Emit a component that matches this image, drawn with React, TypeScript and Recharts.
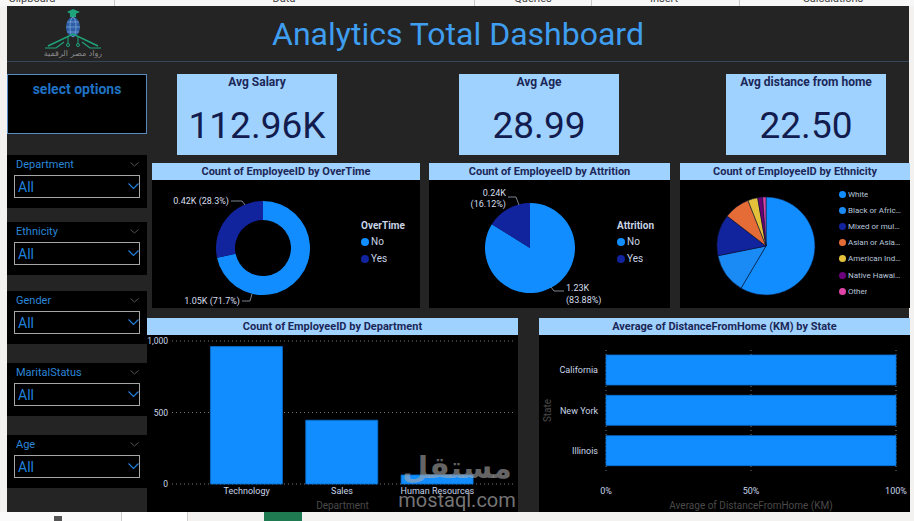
import React from "react";
import { PieChart, Pie, Cell, BarChart, Bar, XAxis, YAxis, CartesianGrid } from "recharts";

// ---- data ----
const kpiTitles = ["Avg Salary", "Avg Age", "Avg distance from home"];
const kpiValues = ["112.96K", "28.99", "22.50"];

const slicerNames = ["Department", "Ethnicity", "Gender", "MaritalStatus", "Age"];

const overtimeNames = ["No", "Yes"];
const overtimeCounts = [1054, 416];

const attritionNames = ["No", "Yes"];
const attritionCounts = [1233, 237];

const ethnicityNames = [
  "White",
  "Black or African American",
  "Mixed or multiple ethnic groups",
  "Asian or Asian American",
  "American Indian or Alaska Native",
  "Native Hawaiian",
  "Other",
];
const ethnicityCounts = [860, 196, 200, 126, 48, 24, 16];

const departmentNames = ["Technology", "Sales", "Human Resources"];
const departmentCounts = [961, 446, 63];
const departmentTicks = [0, 500, 1000];

const stateNames = ["California", "New York", "Illinois"];
const stateAvgDistance = [22.4, 22.7, 22.5];
const stateTicks = [0, 0.5, 1];

const ribbonLabels = ["Clipboard", "Data", "Queries", "Insert", "Calculations"];

// ---- colours ----
const BLUE = "#118DFF";
const NAVY = "#12239E";
const ethnicityColors = [BLUE, "#1a8af5", NAVY, "#E66C37", "#E3C13B", "#6B007B", "#E044A7"];
const CARD = "#a0d2ff";
const TITLE_TXT = "#1b2757";
const LEGEND_TXT = "#c8d3e6";
const FONT = "Roboto, 'Noto Sans', sans-serif";

const overtimeData = overtimeNames.map((name, i) => ({ name, value: overtimeCounts[i] }));
const attritionData = attritionNames.map((name, i) => ({ name, value: attritionCounts[i] }));
const ethnicityData = ethnicityNames.map((name, i) => ({ name, value: ethnicityCounts[i] }));
const departmentData = departmentNames.map((name, i) => ({ name, count: departmentCounts[i] }));
const stateData = stateNames.map((name, i) => ({ name, avg: stateAvgDistance[i] }));

const fmtK = (v: number) => (v / 1000).toFixed(2) + "K";

function PanelTitle({ left, top, width, text }: { left: number; top: number; width: number; text: string }) {
  return (
    <div
      style={{
        position: "absolute",
        left,
        top,
        width,
        height: 17,
        background: CARD,
        color: TITLE_TXT,
        fontSize: 11,
        fontWeight: 700,
        lineHeight: "17px",
        textAlign: "center",
      }}
    >
      {text}
    </div>
  );
}

function Slicer({ name, top }: { name: string; top: number }) {
  return (
    <div style={{ position: "absolute", left: 7, top, width: 140, height: 53, background: "#000" }}>
      <div style={{ position: "absolute", left: 9, top: 3, fontSize: 11, color: "#2a86d8" }}>{name}</div>
      <svg style={{ position: "absolute", left: 123, top: 7 }} width={9} height={5}>
        <polyline points="0.5,0.5 4.5,4 8.5,0.5" fill="none" stroke="#555" strokeWidth={1} />
      </svg>
      <div
        style={{
          position: "absolute",
          left: 7,
          top: 20,
          width: 124,
          height: 21,
          border: "1px solid #a6a6a6",
        }}
      >
        <span style={{ position: "absolute", left: 3, top: 1, lineHeight: "21px", fontSize: 14, color: "#1f80dc" }}>
          All
        </span>
        <svg style={{ position: "absolute", left: 113, top: 7 }} width={11} height={7}>
          <polyline points="0.5,0.5 5.5,5.5 10.5,0.5" fill="none" stroke="#1f80dc" strokeWidth={1.2} />
        </svg>
      </div>
    </div>
  );
}

function Kpi({ left, title, value }: { left: number; title: string; value: string }) {
  return (
    <div style={{ position: "absolute", left, top: 74, width: 160, height: 81, background: CARD }}>
      <div style={{ position: "absolute", top: 1, width: "100%", textAlign: "center", fontSize: 12, fontWeight: 700, color: TITLE_TXT }}>
        {title}
      </div>
      <div style={{ position: "absolute", top: 30, width: "100%", textAlign: "center", fontSize: 37, color: "#121c4e" }}>
        {value}
      </div>
    </div>
  );
}

// label geometry relative to the pie centre
type LabelSpec = { pts: number[][]; tx: number; ty: number[]; anchor: "start" | "end" };

function makeLabel(specs: LabelSpec[], lines: (v: number, pct: number) => string[]) {
  return (p: any) => {
    const s = specs[p.index];
    if (!s) return null;
    const cx = Number(p.cx);
    const cy = Number(p.cy);
    const txt = lines(p.value, p.percent);
    return (
      <g>
        <polyline
          points={s.pts.map(([x, y]) => `${cx + x},${cy + y}`).join(" ")}
          fill="none"
          stroke="#9aa4b4"
          strokeWidth={0.8}
        />
        {txt.map((t, i) => (
          <text
            key={i}
            x={cx + s.tx}
            y={cy + s.ty[i]}
            textAnchor={s.anchor}
            dominantBaseline="central"
            fontSize={9}
            fill="#d6deec"
            fontFamily={FONT}
          >
            {t}
          </text>
        ))}
      </g>
    );
  };
}

const overtimeLabel = makeLabel(
  [
    { pts: [[-11, 46], [-13, 53], [-21, 53]], tx: -23, ty: [53], anchor: "end" },
    { pts: [[-18, -43], [-21, -47], [-32, -47]], tx: -34, ty: [-47], anchor: "end" },
  ],
  (v, pct) => [`${fmtK(v)} (${(pct * 100).toFixed(1)}%)`]
);

const attritionLabel = makeLabel(
  [
    { pts: [[21, 39], [24, 43], [34, 43]], tx: 36, ty: [40, 52], anchor: "start" },
    { pts: [[-11, -43], [-14, -51], [-22, -51]], tx: -24, ty: [-55, -44], anchor: "end" },
  ],
  (v, pct) => [fmtK(v), `(${(pct * 100).toFixed(2)}%)`]
);

function SmallLegend({
  left,
  top,
  title,
  names,
  colors,
}: {
  left: number;
  top: number;
  title: string;
  names: string[];
  colors: string[];
}) {
  return (
    <div style={{ position: "absolute", left, top, color: LEGEND_TXT, fontSize: 10 }}>
      <div style={{ fontWeight: 700, height: 14, lineHeight: "14px" }}>{title}</div>
      {names.map((n, i) => (
        <div key={n} style={{ display: "flex", alignItems: "center", height: 17 }}>
          <span style={{ width: 8, height: 8, borderRadius: 4, background: colors[i], marginRight: 2 }} />
          <span>{n}</span>
        </div>
      ))}
    </div>
  );
}

function Logo() {
  return (
    <svg style={{ position: "absolute", left: 40, top: 6 }} width={66} height={54}>
      <polygon points="27,6 33,3 40,6 33,9" fill="#1ea37a" />
      <rect x={30} y={7} width={6} height={4} fill="#1ea37a" />
      <ellipse cx={33} cy={21} rx={7} ry={10} fill="#2e5fa6" />
      <line x1={26} y1={21} x2={40} y2={21} stroke="#8fb4e6" strokeWidth={0.6} />
      <line x1={27} y1={16} x2={39} y2={16} stroke="#8fb4e6" strokeWidth={0.6} />
      <line x1={27} y1={26} x2={39} y2={26} stroke="#8fb4e6" strokeWidth={0.6} />
      <ellipse cx={33} cy={21} rx={3} ry={10} fill="none" stroke="#8fb4e6" strokeWidth={0.6} />
      <polyline points="8,40 33,28 58,40" fill="none" stroke="#1ea37a" strokeWidth={1.5} />
      <polyline points="5,42 16,42 24,36" fill="none" stroke="#1ea37a" strokeWidth={1.2} />
      <polyline points="61,42 50,42 42,36" fill="none" stroke="#1ea37a" strokeWidth={1.2} />
      <line x1={28} y1={31} x2={28} y2={38} stroke="#1ea37a" strokeWidth={1} />
      <line x1={38} y1={31} x2={38} y2={38} stroke="#1ea37a" strokeWidth={1} />
      <circle cx={28} cy={39} r={1.5} fill="none" stroke="#1ea37a" />
      <circle cx={38} cy={39} r={1.5} fill="none" stroke="#1ea37a" />
      <text x={33} y={50} textAnchor="middle" fontSize={8} fill="#8a8a8a" fontFamily="DejaVu Sans">
        رواد مصر الرقمية
      </text>
    </svg>
  );
}

export default function App() {
  const ribbonX = [32, 284, 533, 664, 833];
  const ribbonSep = [114, 474, 591, 739];
  const slicerTops = [155, 222, 291, 363, 435];
  const kpiLefts = [177, 459, 726];

  return (
    <div
      style={{
        position: "fixed",
        left: 0,
        top: 0,
        width: 914,
        height: 521,
        overflow: "hidden",
        background: "#f3f2f1",
        fontFamily: FONT,
      }}
    >
      {/* ribbon remnant */}
      <div style={{ position: "absolute", left: 0, top: 0, width: 914, height: 6, overflow: "hidden", background: "#f7f7f7" }}>
        {ribbonLabels.map((t, i) => (
          <div
            key={t}
            style={{ position: "absolute", left: ribbonX[i] - 40, width: 80, top: -8, textAlign: "center", fontSize: 11, color: "#444" }}
          >
            {t}
          </div>
        ))}
        {ribbonSep.map((x) => (
          <div key={x} style={{ position: "absolute", left: x, top: 0, width: 1, height: 6, background: "#c8c8c8" }} />
        ))}
      </div>

      {/* canvas */}
      <div style={{ position: "absolute", left: 7, top: 6, width: 902, height: 506, background: "#242424" }} />
      <div style={{ position: "absolute", left: 7, top: 61, width: 902, height: 1, background: "#34465a" }} />

      <Logo />
      <div
        style={{
          position: "absolute",
          left: 0,
          width: 916,
          top: 14,
          textAlign: "center",
          fontSize: 32,
          color: "#3f9ef0",
          lineHeight: "40px",
        }}
      >
        Analytics Total Dashboard
      </div>

      {/* select options */}
      <div
        style={{
          position: "absolute",
          left: 7,
          top: 74,
          width: 138,
          height: 58,
          background: "#000",
          border: "1px solid #5a88c0",
          textAlign: "center",
          color: "#1f72c4",
          fontWeight: 700,
          fontSize: 14,
          lineHeight: "28px",
        }}
      >
        select options
      </div>

      {slicerNames.map((n, i) => (
        <Slicer key={n} name={n} top={slicerTops[i]} />
      ))}

      {kpiTitles.map((t, i) => (
        <Kpi key={t} left={kpiLefts[i]} title={t} value={kpiValues[i]} />
      ))}

      {/* OverTime donut */}
      <div style={{ position: "absolute", left: 152, top: 163, width: 268, height: 145, background: "#000" }} />
      <PanelTitle left={152} top={163} width={268} text="Count of EmployeeID by OverTime" />
      <div style={{ position: "absolute", left: 152, top: 180 }}>
        <PieChart width={268} height={128}>
          <Pie
            data={overtimeData}
            dataKey="value"
            cx={106}
            cy={63}
            innerRadius={28}
            outerRadius={47}
            startAngle={90}
            endAngle={-270}
            stroke="none"
            label={overtimeLabel}
            labelLine={false}
            isAnimationActive={false}
          >
            {overtimeData.map((d, i) => (
              <Cell key={d.name} fill={[BLUE, NAVY][i]} />
            ))}
          </Pie>
        </PieChart>
      </div>
      <SmallLegend left={361} top={219} title="OverTime" names={overtimeNames} colors={[BLUE, NAVY]} />

      {/* Attrition pie */}
      <div style={{ position: "absolute", left: 429, top: 163, width: 241, height: 145, background: "#000" }} />
      <PanelTitle left={429} top={163} width={241} text="Count of EmployeeID by Attrition" />
      <div style={{ position: "absolute", left: 429, top: 180 }}>
        <PieChart width={241} height={128}>
          <Pie
            data={attritionData}
            dataKey="value"
            cx={96}
            cy={63}
            outerRadius={45}
            startAngle={90}
            endAngle={-270}
            stroke="none"
            label={attritionLabel}
            labelLine={false}
            isAnimationActive={false}
          >
            {attritionData.map((d, i) => (
              <Cell key={d.name} fill={[BLUE, NAVY][i]} />
            ))}
          </Pie>
        </PieChart>
      </div>
      <SmallLegend left={617} top={219} title="Attrition" names={attritionNames} colors={[BLUE, NAVY]} />

      {/* Ethnicity pie */}
      <div style={{ position: "absolute", left: 680, top: 163, width: 230, height: 145, background: "#000" }} />
      <PanelTitle left={680} top={163} width={230} text="Count of EmployeeID by Ethnicity" />
      <div style={{ position: "absolute", left: 680, top: 180 }}>
        <PieChart width={160} height={128}>
          <Pie
            data={ethnicityData}
            dataKey="value"
            cx={81}
            cy={61}
            outerRadius={49}
            startAngle={90}
            endAngle={-270}
            stroke="#0b1838"
            strokeWidth={0.6}
            isAnimationActive={false}
          >
            {ethnicityData.map((d, i) => (
              <Cell key={d.name} fill={ethnicityColors[i]} />
            ))}
          </Pie>
        </PieChart>
      </div>
      <div style={{ position: "absolute", left: 839, top: 186, color: "#b9c6dc", fontSize: 8 }}>
        {ethnicityNames.map((n, i) => (
          <div key={n} style={{ display: "flex", alignItems: "center", height: 16.2 }}>
            <span style={{ flex: "none", width: 7, height: 7, borderRadius: 4, background: ethnicityColors[i], marginRight: 2 }} />
            <span style={{ maxWidth: 54, overflow: "hidden", whiteSpace: "nowrap", textOverflow: "ellipsis" }}>{n}</span>
          </div>
        ))}
      </div>

      {/* Department column chart */}
      <div style={{ position: "absolute", left: 147, top: 318, width: 371, height: 194, background: "#000" }} />
      <PanelTitle left={147} top={318} width={371} text="Count of EmployeeID by Department" />
      <div style={{ position: "absolute", left: 143, top: 335 }}>
        <BarChart width={375} height={177} data={departmentData} margin={{ top: 6, right: 5, bottom: 0, left: 0 }} barCategoryGap="12%">
          <CartesianGrid vertical={false} stroke="#777" strokeDasharray="1 3" />
          <XAxis
            dataKey="name"
            axisLine={false}
            tickLine={false}
            tickSize={2}
            interval={0}
            height={28}
            padding={{ left: 27, right: 28 }}
            tick={{ fill: "#c9d6ea", fontSize: 9 }}
            label={{ value: "Department", position: "insideBottom", offset: 3, fill: "#4a4a4a", fontSize: 10 }}
          />
          <YAxis
            width={29}
            domain={[0, 1000]}
            ticks={departmentTicks}
            axisLine={false}
            tickLine={false}
            tickSize={2}
            tick={{ fill: "#c9d6ea", fontSize: 8.5 }}
            tickFormatter={(v: number) => v.toLocaleString("en-US")}
          />
          <Bar dataKey="count" fill={BLUE} stroke="#0a6fd0" strokeWidth={0.8} isAnimationActive={false} />
        </BarChart>
      </div>

      {/* State 100% bar chart */}
      <div style={{ position: "absolute", left: 539, top: 318, width: 371, height: 194, background: "#000" }} />
      <PanelTitle left={539} top={318} width={371} text="Average of DistanceFromHome (KM) by State" />
      <div style={{ position: "absolute", left: 539, top: 335 }}>
        <BarChart
          layout="vertical"
          width={371}
          height={177}
          data={stateData}
          stackOffset="expand"
          margin={{ top: 15, right: 14, bottom: 0, left: 0 }}
        >
          <CartesianGrid horizontal={false} stroke="#777" strokeDasharray="1 3" />
          <XAxis
            type="number"
            domain={[0, 1]}
            ticks={stateTicks}
            axisLine={false}
            tickLine={false}
            tickMargin={11}
            height={41}
            tick={{ fill: "#c9d6ea", fontSize: 9 }}
            tickFormatter={(v: number) => `${Math.round(v * 100)}%`}
            label={{ value: "Average of DistanceFromHome (KM)", position: "insideBottom", offset: 3, fill: "#4a4a4a", fontSize: 10 }}
          />
          <YAxis
            type="category"
            dataKey="name"
            width={67}
            axisLine={false}
            tickLine={false}
            tick={{ fill: "#c9d6ea", fontSize: 9 }}
            label={{ value: "State", angle: -90, position: "insideLeft", offset: 8, fill: "#4a4a4a", fontSize: 10, style: { textAnchor: "middle" } }}
          />
          <Bar dataKey="avg" stackId="a" barSize={30} fill={BLUE} stroke="#0a6fd0" strokeWidth={0.8} isAnimationActive={false} />
        </BarChart>
      </div>

      {/* watermark */}
      <div
        style={{
          position: "absolute",
          left: 398,
          top: 448,
          width: 118,
          textAlign: "center",
          fontFamily: "'DejaVu Sans', sans-serif",
          fontWeight: 700,
          fontSize: 30,
          color: "rgba(170,170,170,0.6)",
          lineHeight: "40px",
        }}
      >
        مستقل
      </div>
      <div
        style={{
          position: "absolute",
          left: 398,
          top: 488,
          width: 118,
          textAlign: "center",
          fontSize: 20,
          color: "rgba(170,170,170,0.7)",
          lineHeight: "24px",
        }}
      >
        mostaql.com
      </div>

      {/* bottom tab strip */}
      <div style={{ position: "absolute", left: 0, top: 512, width: 914, height: 9, background: "#f3f2f1" }} />
      <div style={{ position: "absolute", left: 0, top: 512, width: 121, height: 9, background: "#fafafa", borderRight: "1px solid #cfcfcf" }} />
      <div style={{ position: "absolute", left: 122, top: 512, width: 65, height: 9, background: "#fff", borderRight: "1px solid #cfcfcf" }} />
      <div style={{ position: "absolute", left: 54, top: 516, width: 8, height: 5, background: "#555" }} />
      <div style={{ position: "absolute", left: 264, top: 512, width: 38, height: 9, background: "#1f7a52" }} />
    </div>
  );
}
